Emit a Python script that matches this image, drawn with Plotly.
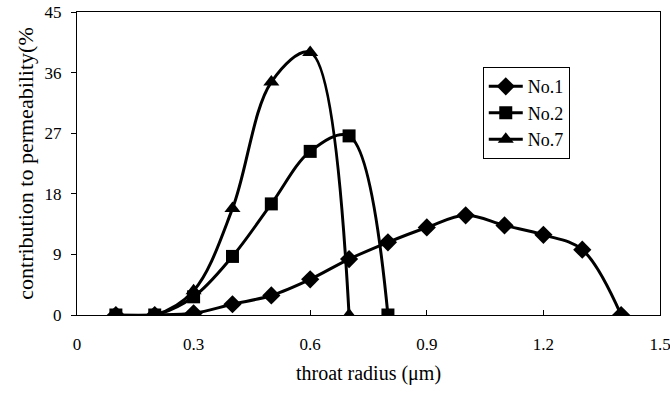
import plotly.graph_objects as go

x1 = [0.1, 0.2, 0.3, 0.4, 0.5, 0.6, 0.7, 0.8, 0.9, 1.0, 1.1, 1.2, 1.3, 1.4]
y1 = [0, 0, 0.25, 1.6, 2.9, 5.3, 8.3, 10.8, 13.0, 14.8, 13.3, 11.9, 9.7, 0]
x2 = [0.1, 0.2, 0.3, 0.4, 0.5, 0.6, 0.7, 0.8]
y2 = [0, 0, 2.7, 8.7, 16.5, 24.3, 26.6, 0]
x7 = [0.1, 0.2, 0.3, 0.4, 0.5, 0.6, 0.7]
y7 = [0, 0, 3.6, 15.8, 34.6, 39.0, 0]
names = ["No.1", "No.2", "No.7"]
symbols = ["diamond", "square", "triangle-up"]
xticks = [0, 0.3, 0.6, 0.9, 1.2, 1.5]
yticks = [0, 9, 18, 27, 36, 45]

font = "Liberation Serif"
fig = go.Figure()
for xs, ys, nm, sym in zip([x1, x2, x7], [y1, y2, y7], names, symbols):
    fig.add_trace(go.Scatter(
        x=xs, y=ys, name=nm, mode="lines+markers",
        line=dict(color="black", width=3, shape="spline", smoothing=1.0),
        marker=dict(symbol=sym, size=14 if sym != "square" else 13, color="black"),
    ))

fig.update_layout(
    width=670, height=394,
    margin=dict(l=77, r=10, t=12, b=79),
    paper_bgcolor="white", plot_bgcolor="white",
    font=dict(family=font, size=17, color="black"),
    showlegend=True,
    legend=dict(x=0.696, y=0.818, xanchor="left", yanchor="top",
                bordercolor="black", borderwidth=1, bgcolor="white",
                font=dict(size=18, family=font), tracegroupgap=0, itemwidth=34),
    xaxis=dict(range=[0, 1.5], tickvals=xticks, ticktext=[str(v) for v in xticks],
               showline=True, linecolor="black", linewidth=1, mirror=True,
               ticks="inside", ticklen=5, tickcolor="black", showgrid=False, zeroline=False,
               ticklabelstandoff=14, automargin=False, ticklabeloverflow="allow",
               title=dict(text="throat radius (μm)", font=dict(size=20, family=font), standoff=12)),
    yaxis=dict(range=[0, 45], tickvals=yticks,
               showline=True, linecolor="black", linewidth=1, mirror=True,
               ticks="outside", ticklen=5, tickcolor="black", showgrid=False, zeroline=False,
               ticklabelstandoff=6, automargin=False,
               title=dict(text="contribution to permeability(%", font=dict(size=22, family=font), standoff=4)),
)
fig.write_html("out.html", config={"displayModeBar": False},
               post_script="document.body.style.margin='0';document.body.style.padding='0';")
